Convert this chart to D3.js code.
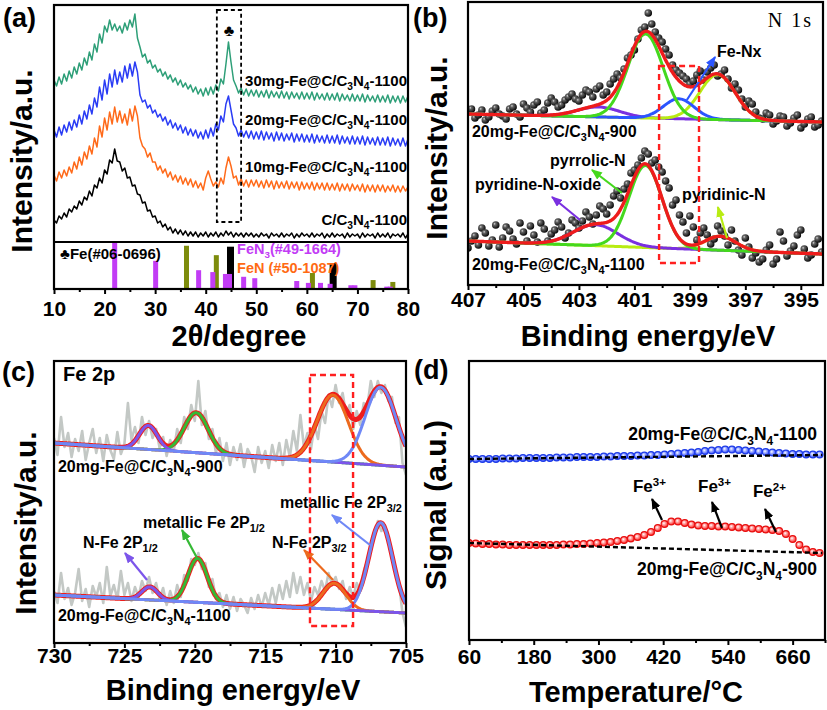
<!DOCTYPE html>
<html>
<head>
<meta charset="utf-8">
<script src="https://cdn.jsdelivr.net/npm/d3@7/dist/d3.min.js"></script>
<style>
  body { margin: 0; background: #fff; }
  svg text { font-family: "Liberation Sans", Arial, "DejaVu Sans", sans-serif; font-weight: bold; }
</style>
</head>
<body>
<svg id="fig" width="827" height="710"></svg>
<script>
// ---------- (a) XRD, 10-80 deg every 0.5 deg (heights in a.u.) ----------
var xrdStart = 10, xrdStep = 0.5;
var xrdC3N4 = [22,19,26,23,29,25,33,30,36,33, 41,37,45,42,51,46,57,54,64,59,
  72,68,82,79,93,81,80,71,74,64, 65,56,57,48,47,39,40,31,32,25,
  26,19,21,15,18,12,15,9,13,8, 12,7,11,6,10,6,10,5,9,6,
  10,5,9,6,10,5,9,6,11,7, 10,5,9,6,9,5,9,6,9,5,
  8,5,9,6,8,4,9,6,8,5, 9,5,8,6,9,4,8,5,9,6,
  8,5,9,5,8,6,9,4,8,5, 9,5,8,6,8,4,9,5,8,6,
  8,4,9,5,8,6,8,4,9,5, 8,5,9,4,8,6,8,5,9,4, 8];
var xrd10mg = [67,61,70,64,72,66,75,69,80,73, 85,77,90,83,96,88,104,95,116,105,
  124,112,130,118,135,120,131,119,128,117, 133,121,136,126,104,96,93,85,89,80,
  80,72,76,69,73,65,70,62,67,60, 66,58,64,57,63,55,61,54,59,52,
  64,71,63,56,60,55,64,58,74,85, 76,64,66,57,63,56,62,55,62,56,
  62,55,61,54,62,55,61,53,61,54, 60,54,61,53,60,54,60,52,60,53,
  59,53,60,52,59,53,59,52,59,52, 58,52,59,51,58,52,58,51,58,52,
  57,51,58,50,57,51,57,50,57,51, 57,50,56,51,57,50,56,50,56,51, 55];
var xrd20mg = [112,105,115,107,117,110,120,112,122,115, 127,118,131,123,137,128,144,135,155,142,
  162,148,168,155,172,158,170,160,176,164, 178,166,180,170,147,140,142,134,137,129,
  132,125,128,121,125,117,122,114,119,112, 117,109,115,107,113,106,112,104,110,103,
  112,104,114,106,118,112,126,120,138,146, 132,118,114,106,112,105,111,104,111,103,
  110,103,111,102,110,103,109,101,110,102, 109,101,108,102,109,100,108,101,108,100,
  107,100,108,99,107,100,106,99,107,99, 106,99,107,98,106,99,105,98,106,98,
  105,98,106,97,105,98,104,97,105,97, 104,97,105,96,104,97,103,96,104,96, 103];
var xrd30mg = [162,156,165,158,168,161,171,164,175,168, 179,172,184,177,190,182,198,190,208,199,
  216,210,222,212,218,211,216,209,219,212, 222,215,228,204,195,185,188,179,182,174,
  177,170,173,166,170,163,167,160,164,157, 162,155,159,153,157,150,155,148,153,146,
  154,147,155,148,157,151,163,158,178,200, 180,162,156,149,154,147,153,146,152,146,
  152,145,151,145,152,144,151,145,150,144, 151,144,150,143,150,144,149,143,150,143,
  149,143,150,142,149,143,148,142,149,142, 148,142,149,141,148,142,147,141,148,141,
  147,141,148,140,147,141,146,140,147,140, 146,140,147,139,146,140,146,139,146,140, 146];
var xrdNames = ["30mg-Fe@C/C_3N_4-1100", "20mg-Fe@C/C_3N_4-1100", "10mg-Fe@C/C_3N_4-1100", "C/C_3N_4-1100"];
var xrdNameY = [156, 117, 70, 17];

// reference cards: 2theta and relative intensity
var fePos = [44.9, 65.2];
var feRel = [0.90, 0.55];
var feNPos = [36.2, 42.1, 61.1, 73.1, 77.0];
var feNRel = [0.92, 0.72, 0.34, 0.19, 0.15];
var feN3Pos = [22.0, 30.1, 38.6, 41.4, 43.9, 44.7, 47.5, 49.7, 58.0, 60.3, 62.7, 64.6, 68.7, 69.5, 75.8, 76.5];
var feN3Rel = [1.0, 0.60, 0.40, 0.36, 0.32, 0.32, 0.26, 0.23, 0.17, 0.13, 0.13, 0.11, 0.08, 0.08, 0.05, 0.05];

// ---------- (b) N 1s, 407 -> 394.25 eV every 0.125 eV ----------
var n1sStart = 407, n1sStep = -0.125;
var n1sPts900 = [173,176,167,170,175,165,168,174,177,171, 169,166,176,178,171,168,181,177,173,180,
  183,172,175,182,187,183,178,180,185,188, 191,186,184,190,195,193,188,196,199,190,
  193,201,206,211,207,216,227,230,235,246, 255,258,272,261,253,247,243,236,230,220,
  215,212,209,206,201,204,210,214,205,213, 217,220,209,211,215,206,197,201,195,186,
  178,184,181,173,167,166,172,170,161,164, 169,168,159,162,167,170,157,161,166,168, 158,160,164];
var n1sPts1100 = [37,44,49,40,57,52,39,45,60,38, 47,58,54,46,41,62,53,44,59,50,
  43,62,56,44,51,55,63,58,47,52, 65,62,57,64,73,68,61,70,79,76,
  71,80,89,94,87,96,101,112,115,120, 127,134,131,122,125,118,113,104,97,80,
  85,70,63,52,69,58,45,52,57,50, 41,46,59,54,49,40,55,44,35,30,
  47,38,27,32,23,26,35,40,21,26, 53,44,29,34,39,50,55,36,27,30, 41,46,33];
// fitted components: centre (eV), height, FWHM ; baseline at 407 and 394.2 eV
var n1sCen900 = [402.3, 400.6, 399.4, 398.0];
var n1sAmp900 = [10, 84, 20, 45];
var n1sFwhm900 = [1.8, 1.5, 1.3, 1.5];
var n1sBase900 = [171, 163];
var n1sCen1100 = [402.4, 400.6, 397.9];
var n1sAmp1100 = [21, 82, 14];
var n1sFwhm1100 = [1.9, 1.4, 1.3];
var n1sBase1100 = [44, 31];
var n1sNotes = ["Fe-Nx", "pyrrolic-N", "pyridine-N-oxide", "pyridinic-N"];
var n1sNoteX = [398.02, 404.04, 406.75, 399.28];
var n1sNoteY = [228, 119, 95, 85];
var n1sArrows = [[399.11, 185, 398.09, 228], [401.45, 92, 402.53, 115], [402.96, 65, 403.97, 88], [397.66, 47, 397.99, 78]];

// ---------- (c) Fe 2p, 730 -> 705 eV every 0.25 eV ----------
var fe2pStart = 730, fe2pStep = -0.25;
var fe2pRaw900 = [205,188,226,196,210,186,204,192,212,183, 200,214,190,205,182,208,193,184,211,189,
  199,240,203,216,200,226,208,222,205,214, 195,206,187,203,192,214,200,226,214,238,
  222,262,218,232,204,214,190,205,182,200, 178,196,183,199,176,194,187,171,196,180,
  192,175,198,182,200,178,203,186,212,192, 228,196,210,194,218,204,232,220,248,236,
  258,240,250,228,238,214,232,218,240,236, 262,246,262,250,258,242,246,220,226,180, 168];
var fe2pRaw1100 = [52,40,70,44,55,38,50,74,42,54, 36,57,46,60,40,76,47,58,44,72,
  48,60,42,56,46,62,52,66,50,60, 44,55,38,52,40,58,46,68,62,84,
  78,90,74,80,56,64,44,50,36,48, 34,46,32,44,38,30,45,34,48,36,
  50,38,55,40,58,44,62,46,70,50, 66,48,60,42,56,48,62,52,70,58,
  66,54,62,44,56,46,60,52,72,82, 98,106,122,112,118,100,92,72,60,30, 16];
// components: N-Fe 2p1/2, metallic 2p1/2, N-Fe 2p3/2, metallic 2p3/2 ; baseline at 730 and 705 eV
var fe2pCen900 = [723.3, 719.9, 710.2, 706.8];
var fe2pAmp900 = [24, 40, 67, 78];
var fe2pFwhm900 = [1.5, 2.0, 2.6, 2.6];
var fe2pBase900 = [200, 176];
var fe2pCen1100 = [723.2, 719.8, 710.1, 706.8];
var fe2pAmp1100 = [13, 44, 26, 89];
var fe2pFwhm1100 = [1.3, 1.6, 1.9, 2.0];
var fe2pBase1100 = [48, 30];
var fe2pNotes = ["metallic Fe 2P_{3/2}", "metallic Fe 2P_{1/2}", "N-Fe 2P_{1/2}", "N-Fe 2P_{3/2}"];
var fe2pNoteX = [713.95, 723.68, 727.94, 714.52];
var fe2pNoteY = [135, 115, 95, 95];
var fe2pArrows = [[707.56, 98, 710.26, 128], [719.84, 85, 720.91, 113], [723.39, 63, 724.96, 90], [710.18, 63, 712.24, 93]];

// ---------- (d) H2-TPR, 60 -> 710 C every 12.5 C ----------
var tprStart = 60, tprStep = 12.5;
var tpr1100 = [181,181,181,181,181,181.5,181.5,181.5,182,182, 182,182,182,182.5,182.5,182.5,183,183,183,183,
  183.5,183.5,184,184,184,184.5,184.5,185,185,185.5, 186,186.5,187,187.5,188,189,189.5,190,190.5,190.5,
  190,189.5,189,188.5,188,187.5,187,186.5,186,186, 185.5,185.5,185.5];
var tpr900 = [97,96.5,96,96,95.5,95.5,95,95,95,95, 95,95,95,95,95.5,95.5,96,96,96.5,97,
  97.5,98,99,100,101.5,103,105,108,112,116, 118.5,118.5,117,115.5,114.5,114,114,113.5,113.5,113,
  112.5,112,111.5,111,110.5,110,109,106,101,95, 90.5,88,87];
var tprBaseT = [60, 715];
var tprBase1100 = [181, 185];
var tprBase900 = [97, 87];
var tprNotes = ["Fe^{3+}", "Fe^{3+}", "Fe^{2+}"];
var tprNoteX = [364, 484.6, 586.5];
var tprNoteY = [148, 148, 143];
var tprArrows = [[417.8, 120, 399.3, 141], [529, 112, 510.5, 138], [629, 108, 608.8, 131]];

// axis ticks
var ticksA = [10, 20, 30, 40, 50, 60, 70, 80], minorA = [15, 25, 35, 45, 55, 65, 75];
var ticksB = [407, 405, 403, 401, 399, 397, 395], minorB = [406, 404, 402, 400, 398, 396];
var ticksC = [730, 725, 720, 715, 710, 705], minorC = [727.5, 722.5, 717.5, 712.5, 707.5];
var ticksD = [60, 180, 300, 420, 540, 660], minorD = [120, 240, 360, 480, 600, 720];

// ================= drawing =================
var svg = d3.select("#fig");
var defs = svg.append("defs");

function rich(g, str, x, y, size, anchor, color) {
  var t = g.append("text").attr("x", x).attr("y", y).attr("font-size", size)
    .attr("text-anchor", anchor || "start").attr("fill", color || "#000");
  var parts = str.match(/_\{[^}]*\}|_.|\^\{[^}]*\}|\^.|[^_^]+/g);
  var shift = 0;
  parts.forEach(function(p) {
    var mode = null, s = p;
    if (p[0] === "_" || p[0] === "^") { mode = p[0]; s = p.slice(1).replace(/[{}]/g, ""); }
    var target = mode === "_" ? size * 0.28 : (mode === "^" ? -size * 0.38 : 0);
    var ts = t.append("tspan").text(s).attr("dy", target - shift);
    shift = target;
    if (mode) ts.attr("font-size", size * 0.68);
  });
  return t;
}

function marker(id, color) {
  defs.append("marker").attr("id", id).attr("viewBox", "0 0 10 8")
    .attr("refX", 9).attr("refY", 4).attr("markerWidth", 11).attr("markerHeight", 9)
    .attr("markerUnits", "userSpaceOnUse").attr("orient", "auto")
    .append("path").attr("d", "M0,0L10,4L0,8Z").attr("fill", color);
}

function arrow(g, x, y, a, color, id) {
  g.append("line").attr("x1", x(a[0])).attr("y1", y(a[1])).attr("x2", x(a[2])).attr("y2", y(a[3]))
    .attr("stroke", color).attr("stroke-width", 2.2).attr("marker-end", "url(#" + id + ")");
}

function clipRect(id, x0, y0, x1, y1) {
  defs.append("clipPath").attr("id", id).append("rect")
    .attr("x", x0).attr("y", y0).attr("width", x1 - x0).attr("height", y1 - y0);
}

function frame(x0, y0, x1, y1) {
  svg.append("rect").attr("x", x0).attr("y", y0).attr("width", x1 - x0).attr("height", y1 - y0)
    .attr("fill", "none").attr("stroke", "#000").attr("stroke-width", 2.2);
}

function bottomAxis(x, yPos, majors, minors, baseline) {
  var m = svg.append("g").attr("transform", "translate(0," + yPos + ")")
    .call(d3.axisBottom(x).tickValues(minors).tickSize(3).tickFormat(""));
  m.select(".domain").remove();
  m.selectAll("line").attr("stroke-width", 2);
  var ax = svg.append("g").attr("transform", "translate(0," + yPos + ")")
    .call(d3.axisBottom(x).tickValues(majors).tickSize(5).tickSizeOuter(0));
  ax.select(".domain").remove();
  ax.attr("font-family", null).attr("font-size", null);
  ax.selectAll("line").attr("stroke-width", 2);
  ax.selectAll("text").attr("font-size", 21).attr("y", baseline - yPos).attr("dy", null).attr("fill", "#000");
}

function title(x, y, txt, size, rotate) {
  svg.append("text").attr("transform", "translate(" + x + "," + y + ")" + (rotate ? " rotate(-90)" : ""))
    .attr("text-anchor", "middle").attr("font-size", size).text(txt);
}

function gauss(c, h, w) {
  var s = w / 2.3548;
  return function(e) { return h * Math.exp(-(e - c) * (e - c) / (2 * s * s)); };
}

function linBase(b, e0, e1) {
  return function(e) { return b[0] + (b[1] - b[0]) * (e - e0) / (e1 - e0); };
}

function gridPts(e0, e1, n) { return d3.range(n + 1).map(function(i) { return e0 + (e1 - e0) * i / n; }); }

function sampled(values, start, step) { return values.map(function(v, i) { return [start + i * step, v]; }); }

function drawFit(g, line, grid, base, cens, amps, fwhms, colors, order, redFirst, redWidth) {
  var comps = cens.map(function(c, i) { return gauss(c, amps[i], fwhms[i]); });
  var env = grid.map(function(e) { return [e, base(e) + d3.sum(comps, function(f) { return f(e); })]; });
  function red() {
    g.append("path").datum(env).attr("d", line).attr("fill", "none").attr("stroke", "#ee1c1c").attr("stroke-width", redWidth);
  }
  if (redFirst) red();
  order.forEach(function(i) {
    g.append("path").datum(grid.map(function(e) { return [e, base(e) + comps[i](e)]; })).attr("d", line)
      .attr("fill", "none").attr("stroke", colors[i]).attr("stroke-width", 3);
  });
  if (!redFirst) red();
}

// ================= panel (a) =================
var xA = d3.scaleLinear().domain([10, 80]).range([54, 408]);
var yA = d3.scaleLinear().domain([0, 237]).range([242, 5]);
var yS = d3.scaleLinear().domain([0, 1]).range([289, 242]);
clipRect("clipA", 54, 5, 408, 242);
var gA = svg.append("g").attr("clip-path", "url(#clipA)");
var lineA = d3.line().x(function(d) { return xA(d[0]); }).y(function(d) { return yA(d[1]); });
var xrdSeries = [xrd30mg, xrd20mg, xrd10mg, xrdC3N4];
var xrdColors = ["#2e9f78", "#2a3cf5", "#ff6a1a", "#000000"];
xrdSeries.slice().reverse().forEach(function(s, i) {
  gA.append("path").datum(sampled(s, xrdStart, xrdStep)).attr("d", lineA)
    .attr("fill", "none").attr("stroke", xrdColors[3 - i]).attr("stroke-width", 1.5).attr("stroke-linejoin", "round");
});
xrdNames.forEach(function(n, i) { rich(svg, n, xA(80) - 1, yA(xrdNameY[i]), 15, "end", "#000"); });
// dashed box around Fe(110)
svg.append("rect").attr("x", xA(42.2)).attr("y", yA(232)).attr("width", xA(47.0) - xA(42.2)).attr("height", yA(20) - yA(232))
  .attr("fill", "none").attr("stroke", "#000").attr("stroke-width", 1.8).attr("stroke-dasharray", "4,3");
svg.append("text").attr("x", xA(44.6)).attr("y", yA(206)).attr("text-anchor", "middle").attr("font-size", 16).text("\u2663");

// sticks
function sticks(pos, rel, color, w) {
  svg.selectAll(null).data(pos).enter().append("rect")
    .attr("x", function(d) { return xA(d) - w / 2; })
    .attr("y", function(d, i) { return yS(rel[i]); })
    .attr("width", w)
    .attr("height", function(d, i) { return yS(0) - yS(rel[i]); })
    .attr("fill", color);
}
sticks(fePos, feRel, "#000", 7);
sticks(feNPos, feNRel, "#7d8c0c", 5);
sticks(feN3Pos, feN3Rel, "#c23cf5", 5);
rich(svg, "\u2663Fe(#06-0696)", xA(11.2), yS(0.64), 15, "start", "#000");
rich(svg, "FeN_3(#49-1664)", xA(46.2), yS(0.75), 14.5, "start", "#c23cf5");
rich(svg, "FeN (#50-1087)", xA(46.2), yS(0.33), 14.5, "start", "#ff6a13");
svg.append("line").attr("x1", 54).attr("x2", 408).attr("y1", 242).attr("y2", 242).attr("stroke", "#000").attr("stroke-width", 2.2);
frame(54, 5, 408, 289);
bottomAxis(xA, 289, ticksA, minorA, 316);
title(239, 346, "2\u03b8/degree", 29, false);
title(32, 161, "Intensity/a.u.", 30, true);
svg.append("text").attr("x", 3).attr("y", 27).attr("font-size", 27).text("(a)");

// ================= panel (b) =================
var xB = d3.scaleLinear().domain([407, 394.2]).range([468, 823]);
var yB = d3.scaleLinear().domain([0, 283]).range([285, 2]);
clipRect("clipB", 468, 2, 823, 285);
var gB = svg.append("g").attr("clip-path", "url(#clipB)");
var ball = defs.append("radialGradient").attr("id", "ball").attr("cx", 0.35).attr("cy", 0.35).attr("r", 0.7);
ball.append("stop").attr("offset", 0).attr("stop-color", "#e8e8e8");
ball.append("stop").attr("offset", 0.22).attr("stop-color", "#6a6a6a");
ball.append("stop").attr("offset", 1).attr("stop-color", "#000000");
[n1sPts900, n1sPts1100].forEach(function(s) {
  gB.selectAll(null).data(sampled(s, n1sStart, n1sStep)).enter().append("circle")
    .attr("cx", function(d) { return xB(d[0]); }).attr("cy", function(d) { return yB(d[1]); })
    .attr("r", 3.8).attr("fill", "url(#ball)");
});
var lineB = d3.line().x(function(d) { return xB(d[0]); }).y(function(d) { return yB(d[1]); }).curve(d3.curveBasis);
var gridB = gridPts(407, 394.2, 256);
drawFit(gB, lineB, gridB, linBase(n1sBase900, 407, 394.2), n1sCen900, n1sAmp900, n1sFwhm900,
  ["#7a30e0", "#44d81e", "#2b55ff", "#b8ec12"], [0, 3, 2, 1], false, 3.4);
drawFit(gB, lineB, gridB, linBase(n1sBase1100, 407, 394.2), n1sCen1100, n1sAmp1100, n1sFwhm1100,
  ["#7a30e0", "#44d81e", "#b8ec12"], [2, 0, 1], false, 3.4);
var n1sColors = ["#2b55ff", "#44d81e", "#7a30e0", "#b8ec12"];
n1sColors.forEach(function(c, i) { marker("mb" + i, c); });
n1sArrows.forEach(function(a, i) { arrow(svg, xB, yB, a, n1sColors[i], "mb" + i); });
n1sNotes.forEach(function(n, i) { rich(svg, n, xB(n1sNoteX[i]), yB(n1sNoteY[i]), 16, "start", "#000"); });
rich(svg, "20mg-Fe@C/C_3N_4-900", xB(406.86), yB(148), 16, "start", "#000");
rich(svg, "20mg-Fe@C/C_3N_4-1100", xB(406.86), yB(15), 16, "start", "#000");
svg.append("text").attr("x", xB(394.56)).attr("y", yB(258)).attr("text-anchor", "end")
  .attr("font-size", 20).attr("letter-spacing", 2)
  .style("font-family", "'Liberation Serif', 'Times New Roman', serif").style("font-weight", "normal").text("N 1s");
svg.append("rect").attr("x", xB(400.11)).attr("y", yB(219)).attr("width", xB(398.67) - xB(400.11)).attr("height", yB(22) - yB(219))
  .attr("fill", "none").attr("stroke", "#ff2020").attr("stroke-width", 2.4).attr("stroke-dasharray", "6,4");
frame(468, 2, 823, 285);
bottomAxis(xB, 285, ticksB, minorB, 307);
title(648, 346, "Binding energy/eV", 29, false);
title(447, 148, "Intensity/a.u.", 30, true);
svg.append("text").attr("x", 413).attr("y", 27).attr("font-size", 27).text("(b)");

// ================= panel (c) =================
var xC = d3.scaleLinear().domain([730, 705]).range([54, 406]);
var yC = d3.scaleLinear().domain([0, 282]).range([643, 361]);
clipRect("clipC", 54, 361, 406, 643);
var gC = svg.append("g").attr("clip-path", "url(#clipC)");
var lineC = d3.line().x(function(d) { return xC(d[0]); }).y(function(d) { return yC(d[1]); });
var lineCs = d3.line().x(function(d) { return xC(d[0]); }).y(function(d) { return yC(d[1]); }).curve(d3.curveBasis);
[fe2pRaw900, fe2pRaw1100].forEach(function(s) {
  gC.append("path").datum(sampled(s, fe2pStart, fe2pStep)).attr("d", lineC)
    .attr("fill", "none").attr("stroke", "#c3c8c5").attr("stroke-width", 2.6).attr("stroke-linejoin", "round");
});
var gridC = gridPts(730, 705, 500);
var fe2pColors = ["#7c55ea", "#35b935", "#ec6a1e", "#6f88f6"];
drawFit(gC, lineCs, gridC, linBase(fe2pBase900, 730, 705), fe2pCen900, fe2pAmp900, fe2pFwhm900, fe2pColors, [1, 2, 0, 3], true, 5);
drawFit(gC, lineCs, gridC, linBase(fe2pBase1100, 730, 705), fe2pCen1100, fe2pAmp1100, fe2pFwhm1100, fe2pColors, [1, 2, 0, 3], true, 5);
var fe2pArrowColors = ["#6f88f6", "#35b935", "#7c55ea", "#ec6a1e"];
fe2pArrowColors.forEach(function(c, i) { marker("mc" + i, c); });
fe2pArrows.forEach(function(a, i) { arrow(svg, xC, yC, a, fe2pArrowColors[i], "mc" + i); });
fe2pNotes.forEach(function(n, i) { rich(svg, n, xC(fe2pNoteX[i]), yC(fe2pNoteY[i]), 16, "start", "#000"); });
rich(svg, "20mg-Fe@C/C_3N_4-900", xC(729.72), yC(171), 16, "start", "#000");
rich(svg, "20mg-Fe@C/C_3N_4-1100", xC(729.72), yC(22), 16, "start", "#000");
svg.append("text").attr("x", xC(729.36)).attr("y", yC(262)).attr("font-size", 20).text("Fe 2p");
svg.append("rect").attr("x", xC(711.82)).attr("y", yC(268)).attr("width", xC(708.76) - xC(711.82)).attr("height", yC(17) - yC(268))
  .attr("fill", "none").attr("stroke", "#ff2020").attr("stroke-width", 2.4).attr("stroke-dasharray", "6,4");
frame(54, 361, 406, 643);
bottomAxis(xC, 643, ticksC, minorC, 663);
title(233, 700, "Binding energy/eV", 29, false);
title(36, 523, "Intensity/a.u.", 30, true);
svg.append("text").attr("x", 2).attr("y", 381).attr("font-size", 27).text("(c)");

// ================= panel (d) =================
var xD = d3.scaleLinear().domain([60, 720]).range([469, 825]);
var yD = d3.scaleLinear().domain([0, 279]).range([640, 361]);
clipRect("clipD", 469, 361, 825, 640);
var gD = svg.append("g").attr("clip-path", "url(#clipD)");
function ballGrad(id, mid, edge) {
  var gr = defs.append("radialGradient").attr("id", id).attr("cx", 0.4).attr("cy", 0.4).attr("r", 0.6);
  gr.append("stop").attr("offset", 0).attr("stop-color", "#ffffff");
  gr.append("stop").attr("offset", 0.3).attr("stop-color", mid);
  gr.append("stop").attr("offset", 1).attr("stop-color", edge);
}
ballGrad("redBall", "#ffb4b4", "#ff2a2a");
ballGrad("blueBall", "#b4c0ff", "#3048ff");
var tprSeries = [tpr1100, tpr900];
var tprFill = ["url(#blueBall)", "url(#redBall)"];
var tprStroke = ["#1e3ce8", "#e81010"];
var tprBases = [tprBase1100, tprBase900];
tprSeries.forEach(function(s, k) {
  gD.selectAll(null).data(sampled(s, tprStart, tprStep)).enter().append("circle")
    .attr("cx", function(d) { return xD(d[0]); }).attr("cy", function(d) { return yD(d[1]); })
    .attr("r", 3.4).attr("fill", tprFill[k]).attr("stroke", tprStroke[k]).attr("stroke-width", 1.2);
  gD.append("line").attr("x1", xD(tprBaseT[0])).attr("y1", yD(tprBases[k][0]))
    .attr("x2", xD(tprBaseT[1])).attr("y2", yD(tprBases[k][1]))
    .attr("stroke", "#000").attr("stroke-width", 2.4).attr("stroke-dasharray", "5,3");
});
marker("md", "#000");
tprArrows.forEach(function(a) { arrow(svg, xD, yD, a, "#000", "md"); });
tprNotes.forEach(function(n, i) { rich(svg, n, xD(tprNoteX[i]), yD(tprNoteY[i]), 17, "start", "#000"); });
rich(svg, "20mg-Fe@C/C_3N_4-1100", xD(705.2), yD(200), 17.5, "end", "#000");
rich(svg, "20mg-Fe@C/C_3N_4-900", xD(705.2), yD(65), 17.5, "end", "#000");
frame(469, 361, 825, 640);
bottomAxis(xD, 640, ticksD, minorD, 664);
title(636, 702, "Temperature/\u00b0C", 29, false);
title(446, 505, "Signal (a.u.)", 30, true);
svg.append("text").attr("x", 414).attr("y", 379).attr("font-size", 27).text("(d)");
</script>
</body>
</html>
